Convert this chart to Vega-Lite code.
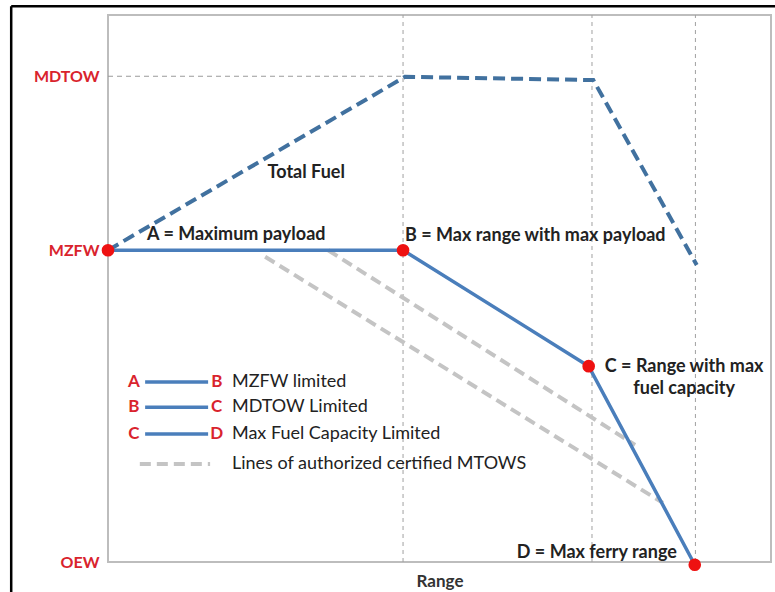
{
  "$schema": "https://vega.github.io/schema/vega-lite/v6.json",
  "width": 663,
  "height": 547,
  "autosize": {"type": "none"},
  "padding": {"left": 108, "top": 15, "right": 4, "bottom": 30},
  "background": "white",
  "config": {
    "view": {"stroke": "#bdbdbd", "strokeWidth": 2},
    "font": "Lato",
    "text": {"font": "Lato", "baseline": "middle"}
  },
  "datasets": {
    "vlines": [{"x": 44.5}, {"x": 73.0}, {"x": 88.6}],
    "mdtow": [{"x": 0, "x2": 44.5, "y": 88.8}],
    "mtow": [
      {"s": 1, "x": 33.2, "y": 57.0},
      {"s": 1, "x": 79.5, "y": 21.4},
      {"s": 2, "x": 23.7, "y": 55.8},
      {"s": 2, "x": 83.7, "y": 10.8}
    ],
    "fuel": [
      {"o": 1, "x": 0, "y": 57.0},
      {"o": 2, "x": 44.8, "y": 88.7},
      {"o": 3, "x": 73.2, "y": 88.1},
      {"o": 4, "x": 88.8, "y": 54.3}
    ],
    "envelope": [
      {"o": 1, "p": "A", "x": 0, "y": 57.0},
      {"o": 2, "p": "B", "x": 44.5, "y": 57.0},
      {"o": 3, "p": "C", "x": 72.5, "y": 35.8},
      {"o": 4, "p": "D", "x": 88.5, "y": -0.5}
    ],
    "leftLabels": [
      {"text": "A = Maximum payload", "x": 5.9, "y": 59.8},
      {"text": "B = Max range with max payload", "x": 44.8, "y": 59.6}
    ],
    "centerLabels": [
      {"text": "Total Fuel", "x": 29.9, "y": 71.1},
      {"text": "C = Range with max", "x": 86.9, "y": 35.6},
      {"text": "fuel capacity", "x": 86.9, "y": 31.6}
    ],
    "rightLabels": [
      {"text": "D = Max ferry range", "x": 85.8, "y": 1.6}
    ],
    "legend": [
      {"from": "A", "to": "B", "label": "MZFW limited", "y": 32.9},
      {"from": "B", "to": "C", "label": "MDTOW Limited", "y": 28.3},
      {"from": "C", "to": "D", "label": "Max Fuel Capacity Limited", "y": 23.4}
    ],
    "legendDash": [
      {"label": "Lines of authorized certified MTOWS", "y": 17.9}
    ],
    "frameTop": [{"x": -14.6, "x2": 101, "y": 101.6}],
    "frameLeft": [{"x": -14.6, "y": 101.6, "y2": -6}]
  },
  "layer": [
    {
      "data": {"name": "vlines"},
      "mark": {"type": "rule", "color": "#a0a0a0", "strokeWidth": 1, "strokeDash": [4, 4]},
      "encoding": {
        "x": {"field": "x", "type": "quantitative", "scale": {"domain": [0, 100], "nice": false, "zero": false},
          "axis": {"title": "Range", "labels": false, "ticks": false, "domain": false, "grid": false, "titleFont": "Lato", "titleFontSize": 17, "titleFontWeight": "bold", "titleColor": "#333333", "titlePadding": 11}},
        "y": {"datum": 0, "type": "quantitative", "scale": {"domain": [0, 100], "nice": false, "zero": false},
          "axis": {"title": null, "values": [0, 57, 88.8], "labelExpr": "datum.value == 0 ? 'OEW' : (datum.value < 60 ? 'MZFW' : 'MDTOW')", "ticks": false, "domain": false, "grid": false, "labelColor": "#d9232d", "labelFont": "Lato", "labelFontSize": 16, "labelFontWeight": "bold", "labelPadding": 9, "labelBaseline": "middle"}},
        "y2": {"datum": 100}
      }
    },
    {
      "data": {"name": "mdtow"},
      "mark": {"type": "rule", "color": "#9a9a9a", "strokeWidth": 1, "strokeDash": [5, 4]},
      "encoding": {
        "x": {"field": "x", "type": "quantitative"},
        "x2": {"field": "x2"},
        "y": {"field": "y", "type": "quantitative"}
      }
    },
    {
      "data": {"name": "mtow"},
      "mark": {"type": "line", "color": "#c4c4c4", "strokeWidth": 4, "strokeDash": [11, 6]},
      "encoding": {
        "x": {"field": "x", "type": "quantitative"},
        "y": {"field": "y", "type": "quantitative"},
        "detail": {"field": "s"}
      }
    },
    {
      "data": {"name": "fuel"},
      "mark": {"type": "line", "color": "#41719f", "strokeWidth": 4, "strokeDash": [12, 6]},
      "encoding": {
        "x": {"field": "x", "type": "quantitative"},
        "y": {"field": "y", "type": "quantitative"},
        "order": {"field": "o"}
      }
    },
    {
      "data": {"name": "envelope"},
      "mark": {"type": "line", "color": "#4a7ebb", "strokeWidth": 3.5, "clip": false},
      "encoding": {
        "x": {"field": "x", "type": "quantitative"},
        "y": {"field": "y", "type": "quantitative"},
        "order": {"field": "o"}
      }
    },
    {
      "data": {"name": "envelope"},
      "mark": {"type": "point", "shape": "circle", "filled": true, "color": "#ee1111", "opacity": 1, "size": 160, "clip": false},
      "encoding": {
        "x": {"field": "x", "type": "quantitative"},
        "y": {"field": "y", "type": "quantitative"}
      }
    },
    {
      "data": {"name": "leftLabels"},
      "mark": {"type": "text", "align": "left", "fontWeight": "bold", "fontSize": 18, "color": "#222222"},
      "encoding": {
        "x": {"field": "x", "type": "quantitative"},
        "y": {"field": "y", "type": "quantitative"},
        "text": {"field": "text"}
      }
    },
    {
      "data": {"name": "centerLabels"},
      "mark": {"type": "text", "align": "center", "fontWeight": "bold", "fontSize": 18, "color": "#222222"},
      "encoding": {
        "x": {"field": "x", "type": "quantitative"},
        "y": {"field": "y", "type": "quantitative"},
        "text": {"field": "text"}
      }
    },
    {
      "data": {"name": "rightLabels"},
      "mark": {"type": "text", "align": "right", "fontWeight": "bold", "fontSize": 18, "color": "#222222"},
      "encoding": {
        "x": {"field": "x", "type": "quantitative"},
        "y": {"field": "y", "type": "quantitative"},
        "text": {"field": "text"}
      }
    },
    {
      "data": {"name": "legend"},
      "mark": {"type": "rule", "color": "#4a7ebb", "strokeWidth": 3.5},
      "encoding": {
        "x": {"datum": 5.6, "type": "quantitative"},
        "x2": {"datum": 15.1},
        "y": {"field": "y", "type": "quantitative"}
      }
    },
    {
      "data": {"name": "legend"},
      "mark": {"type": "text", "align": "center", "fontWeight": "bold", "fontSize": 17, "color": "#d9232d"},
      "encoding": {
        "x": {"datum": 3.9, "type": "quantitative"},
        "y": {"field": "y", "type": "quantitative"},
        "text": {"field": "from"}
      }
    },
    {
      "data": {"name": "legend"},
      "mark": {"type": "text", "align": "center", "fontWeight": "bold", "fontSize": 17, "color": "#d9232d"},
      "encoding": {
        "x": {"datum": 16.4, "type": "quantitative"},
        "y": {"field": "y", "type": "quantitative"},
        "text": {"field": "to"}
      }
    },
    {
      "data": {"name": "legend"},
      "mark": {"type": "text", "align": "left", "fontSize": 18, "color": "#222222"},
      "encoding": {
        "x": {"datum": 18.7, "type": "quantitative"},
        "y": {"field": "y", "type": "quantitative"},
        "text": {"field": "label"}
      }
    },
    {
      "data": {"name": "legendDash"},
      "mark": {"type": "rule", "color": "#c4c4c4", "strokeWidth": 4, "strokeDash": [11, 6]},
      "encoding": {
        "x": {"datum": 4.8, "type": "quantitative"},
        "x2": {"datum": 15.4},
        "y": {"field": "y", "type": "quantitative"}
      }
    },
    {
      "data": {"name": "legendDash"},
      "mark": {"type": "text", "align": "left", "fontSize": 18, "color": "#222222"},
      "encoding": {
        "x": {"datum": 18.7, "type": "quantitative"},
        "y": {"field": "y", "type": "quantitative"},
        "text": {"field": "label"}
      }
    },
    {
      "data": {"name": "frameTop"},
      "mark": {"type": "rule", "color": "#000000", "strokeWidth": 2.5, "clip": false},
      "encoding": {
        "x": {"field": "x", "type": "quantitative"},
        "x2": {"field": "x2"},
        "y": {"field": "y", "type": "quantitative"}
      }
    },
    {
      "data": {"name": "frameLeft"},
      "mark": {"type": "rule", "color": "#000000", "strokeWidth": 2.5, "clip": false},
      "encoding": {
        "x": {"field": "x", "type": "quantitative"},
        "y": {"field": "y", "type": "quantitative"},
        "y2": {"field": "y2"}
      }
    }
  ]
}
